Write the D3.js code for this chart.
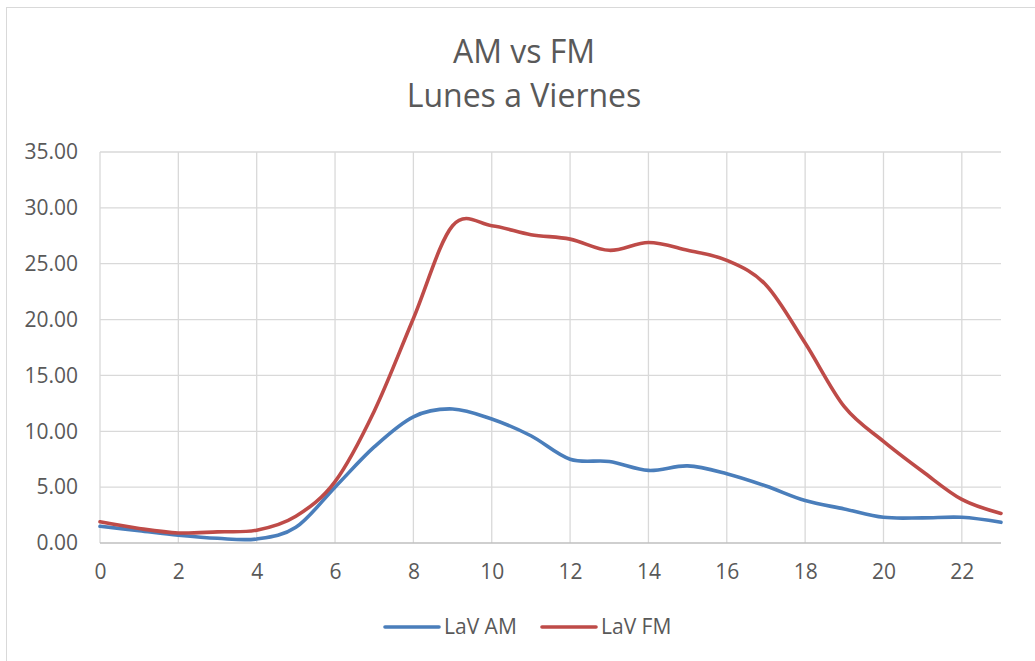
<!DOCTYPE html>
<html>
<head>
<meta charset="utf-8">
<script src="https://cdn.jsdelivr.net/npm/d3@7"></script>
<style>
  html, body { margin: 0; padding: 0; background: #fff; }
  svg { display: block; font-family: "Open Sans", sans-serif; }
</style>
</head>
<body>
<svg id="chart" width="1035" height="661"></svg>
<script>
const titleLines = ["AM vs FM", "Lunes a Viernes"];
const hours = [0,1,2,3,4,5,6,7,8,9,10,11,12,13,14,15,16,17,18,19,20,21,22,23];
const lavAM = [1.5,1.1,0.7,0.42,0.36,1.4,5.0,8.6,11.3,12.0,11.1,9.6,7.5,7.3,6.5,6.9,6.2,5.1,3.8,3.05,2.3,2.25,2.3,1.85];
const lavFM = [1.9,1.3,0.9,1.0,1.15,2.4,5.5,11.8,20.1,28.4,28.4,27.6,27.2,26.2,26.9,26.2,25.3,23.1,17.9,12.2,9.1,6.4,3.9,2.65];
const seriesNames = ["LaV AM", "LaV FM"];
const seriesColors = ["#4a7ebb", "#be4b48"];
const yTicks = [0,5,10,15,20,25,30,35];
const xTicks = [0,2,4,6,8,10,12,14,16,18,20,22];

(function () {
const svg = d3.select("#chart");
const textColor = "#595959";

// chart border
svg.append("rect")
  .attr("x", 6.5).attr("y", 7.5)
  .attr("width", 1040).attr("height", 670)
  .attr("fill", "none").attr("stroke", "#d9d9d9").attr("stroke-width", 1);

const pLeft = 100, pRight = 1001, pTop = 152, pBottom = 543;
const x = d3.scaleLinear().domain([0, 23]).range([pLeft, pRight]);
const y = d3.scaleLinear().domain([0, 35]).range([pBottom, pTop]);

// title
svg.append("g").selectAll("text").data(titleLines).join("text")
  .attr("x", 524).attr("y", (d, i) => 63 + i * 43.5)
  .attr("text-anchor", "middle")
  .attr("font-size", 32)
  .attr("fill", textColor)
  .text(d => d);

// horizontal gridlines
svg.append("g").selectAll("line").data(yTicks.filter(d => d > 0)).join("line")
  .attr("x1", pLeft).attr("x2", pRight)
  .attr("y1", d => y(d)).attr("y2", d => y(d))
  .attr("stroke", "#d9d9d9").attr("stroke-width", 1.3);

// vertical gridlines
svg.append("g").selectAll("line").data(xTicks).join("line")
  .attr("x1", d => x(d)).attr("x2", d => x(d))
  .attr("y1", pTop).attr("y2", pBottom)
  .attr("stroke", "#d9d9d9").attr("stroke-width", 1.3);

// y axis
const yAxis = svg.append("g")
  .attr("transform", `translate(${pLeft},0)`)
  .call(d3.axisLeft(y).tickValues(yTicks).tickFormat(d3.format(".2f")).tickSize(0).tickPadding(22));
yAxis.select(".domain").remove();
yAxis.selectAll("text").attr("font-size", 21).attr("fill", textColor)
  .attr("font-family", "'Open Sans', sans-serif");

// x axis
const xAxis = svg.append("g")
  .attr("transform", `translate(0,${pBottom})`)
  .call(d3.axisBottom(x).tickValues(xTicks).tickSize(0).tickPadding(21));
xAxis.select(".domain").attr("stroke", "#bfbfbf").attr("stroke-width", 1.5)
  .attr("d", `M${pLeft},0H${pRight}`);
xAxis.selectAll("text").attr("font-size", 21).attr("fill", textColor)
  .attr("font-family", "'Open Sans', sans-serif");

// lines
const line = d3.line()
  .x((d, i) => x(hours[i]))
  .y(d => y(d))
  .curve(d3.curveCatmullRom.alpha(0));

[lavAM, lavFM].forEach((s, k) => {
  svg.append("path")
    .datum(s)
    .attr("d", line)
    .attr("fill", "none")
    .attr("stroke", seriesColors[k])
    .attr("stroke-width", 3.6)
    .attr("stroke-linecap", "round")
    .attr("stroke-linejoin", "round");
});

// legend
const legendX = [385, 542];
const lg = svg.append("g");
seriesNames.forEach((name, k) => {
  lg.append("line")
    .attr("x1", legendX[k]).attr("x2", legendX[k] + 54)
    .attr("y1", 627).attr("y2", 627)
    .attr("stroke", seriesColors[k]).attr("stroke-width", 3.6)
    .attr("stroke-linecap", "round");
  lg.append("text")
    .attr("x", legendX[k] + 59).attr("y", 634)
    .attr("font-size", 21).attr("fill", textColor)
    .text(name);
});
})();
</script>
</body>
</html>
